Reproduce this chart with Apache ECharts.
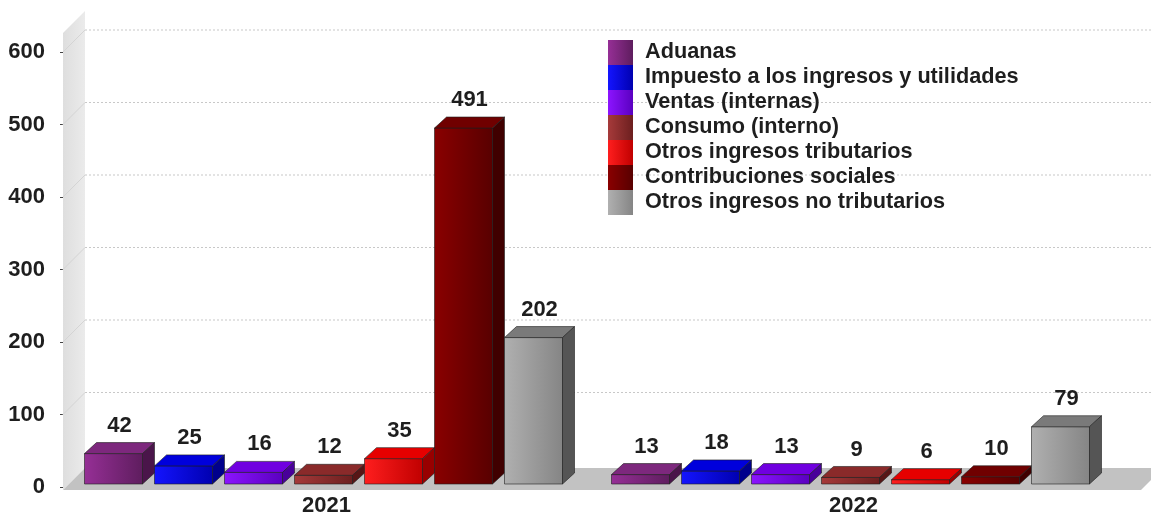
<!DOCTYPE html>
<html>
<head>
<meta charset="utf-8">
<script src="https://cdn.jsdelivr.net/npm/echarts@6/dist/echarts.min.js"></script>
<style>
	html, body { margin: 0; padding: 0; width: 100%; height: 100%; background: #fff; }
	#chartBox { width: 1151px; height: 513px; }
</style>
</head>
<body>
<div id="chartBox"></div>
<script>
	// datos
	var categories = ['2021', '2022'];
	var seriesNames = ['Aduanas', 'Impuesto a los ingresos y utilidades', 'Ventas (internas)', 'Consumo (interno)',
		'Otros ingresos tributarios', 'Contribuciones sociales', 'Otros ingresos no tributarios'];
	var values2021 = [42, 25, 16, 12, 35, 491, 202];
	var values2022 = [13, 18, 13, 9, 6, 10, 79];
	var yTicks = [0, 100, 200, 300, 400, 500, 600];

	// colores: frente claro, frente oscuro, tapa, lado
	var palette = [
		['#962f96', '#5e1d5e', '#7d287d', '#4a154a'],
		['#1414ff', '#0000b0', '#0000dc', '#00008c'],
		['#8c14ff', '#5a00c0', '#7000e0', '#48009a'],
		['#a63a3a', '#6c1f1f', '#8a2a2a', '#571616'],
		['#ff1e1e', '#c00000', '#e60000', '#980000'],
		['#8a0000', '#580000', '#700000', '#400000'],
		['#b0b0b0', '#858585', '#7a7a7a', '#555555']
	];

	var FAMILY = '"Liberation Sans", Arial, sans-serif';
	var FONT = 'bold 22px ' + FAMILY;
	var barW = 58, barStep = 70, dep = [12, -11]; // barras
	var wallDep = [22, -22]; // paredes
	var overhang = 24; // el piso sigue fuera del cuadro

	function hGrad(c1, c2) {
		return new echarts.graphic.LinearGradient(0, 0, 1, 0, [{ offset: 0, color: c1 }, { offset: 1, color: c2 }]);
	}

	function renderBackdrop(params, api) {
		var cs = params.coordSys;
		var left = cs.x, right = cs.x + cs.width + overhang;
		var y0 = api.coord([0, 0])[1];
		var y = api.coord([0, api.value(1)])[1];
		var dx = wallDep[0], dy = wallDep[1];
		var children = [];
		if (params.dataIndex === 0) {
			// pared lateral
			children.push({
				type: 'polygon',
				shape: { points: [[left, y0 + 3], [left, cs.y - 19], [left + dx, cs.y - 19 + dy], [left + dx, y0 + 3 + dy]] },
				style: { fill: new echarts.graphic.LinearGradient(0, 0, 1, 0, [{ offset: 0, color: '#dedede' }, { offset: 1, color: '#ebebeb' }]) }
			});
			// piso
			children.push({
				type: 'polygon',
				shape: { points: [[left, y0 + 3], [left + dx, y0 + 3 + dy], [right + dx, y0 + 3 + dy], [right, y0 + 3]] },
				style: { fill: '#c2c2c2' }
			});
		} else {
			children.push({
				type: 'line',
				shape: { x1: left + dx, y1: y + dy, x2: right + dx, y2: y + dy },
				style: { stroke: '#c8c8c8', lineWidth: 1, lineDash: [2, 2] }
			});
			children.push({
				type: 'line',
				shape: { x1: left, y1: y, x2: left + dx, y2: y + dy },
				style: { stroke: '#d4d4d4', lineWidth: 1 }
			});
		}
		return { type: 'group', children: children };
	}

	function makeBarRenderer(si) {
		return function (params, api) {
			var cat = api.value(0), val = api.value(1);
			var base = api.coord([cat, 0]);
			var top = api.coord([cat, val]);
			var cx = base[0] + (si - 3) * barStep - 3;
			var x0 = cx - barW / 2, x1 = cx + barW / 2;
			var yb = base[1] - 3, yt = top[1] - 3;
			var dx = dep[0], dy = dep[1];
			var c = palette[si];
			var stroke = { stroke: 'rgba(30,30,30,0.75)', lineWidth: 0.8 };
			return {
				type: 'group',
				children: [{
					type: 'rect',
					shape: { x: x0, y: yt, width: barW, height: yb - yt },
					style: Object.assign({ fill: hGrad(c[0], c[1]) }, stroke)
				}, {
					type: 'polygon',
					shape: { points: [[x0, yt], [x1, yt], [x1 + dx, yt + dy], [x0 + dx, yt + dy]] },
					style: Object.assign({ fill: c[2] }, stroke)
				}, {
					type: 'polygon',
					shape: { points: [[x1, yt], [x1 + dx, yt + dy], [x1 + dx, yb + dy], [x1, yb]] },
					style: Object.assign({ fill: c[3] }, stroke)
				}, {
					type: 'text',
					style: {
						text: String(val), x: cx + dx / 2, y: yt + dy - 17,
						align: 'center', verticalAlign: 'middle', font: FONT, fill: '#1e1e1e'
					}
				}]
			};
		};
	}

	var chart = echarts.init(document.getElementById('chartBox'));

	var series = [{
		type: 'custom',
		name: 'fondo',
		z: 1,
		silent: true,
		renderItem: renderBackdrop,
		data: yTicks.map(function (t) { return [0, t]; })
	}];
	seriesNames.forEach(function (name, i) {
		series.push({
			type: 'custom',
			name: name,
			z: 2,
			itemStyle: { color: hGrad(palette[i][0], palette[i][1]) },
			renderItem: makeBarRenderer(i),
			data: [[0, values2021[i]], [1, values2022[i]]]
		});
	});

	var option = {
		animation: false,
		grid: { left: 63, right: 34, top: 52, bottom: 26, outerBoundsMode: 'none', containLabel: false },
		legend: {
			data: seriesNames,
			orient: 'vertical',
			left: 608,
			top: 40,
			padding: 0,
			itemWidth: 25,
			itemHeight: 25,
			itemGap: 0,
			icon: 'rect',
			selectedMode: false,
			textStyle: { fontSize: 21.7, fontWeight: 'bold', fontFamily: FAMILY, color: '#1e1e1e', padding: [0, 0, 0, 7] }
		},
		xAxis: {
			type: 'category',
			data: categories,
			axisLine: { show: false },
			axisTick: { show: false },
			axisLabel: { fontSize: 22, fontWeight: 'bold', fontFamily: FAMILY, color: '#1e1e1e', margin: 8 }
		},
		yAxis: {
			type: 'value',
			min: 0,
			max: 600,
			interval: 100,
			splitLine: { show: false },
			axisLine: { show: false },
			axisTick: { show: true, length: 3, lineStyle: { color: '#444' } },
			axisLabel: { fontSize: 22, fontWeight: 'bold', fontFamily: FAMILY, color: '#1e1e1e', margin: 18, padding: [4, 0, 0, 0] }
		},
		series: series
	};
	chart.setOption(option);
</script>
</body>
</html>
